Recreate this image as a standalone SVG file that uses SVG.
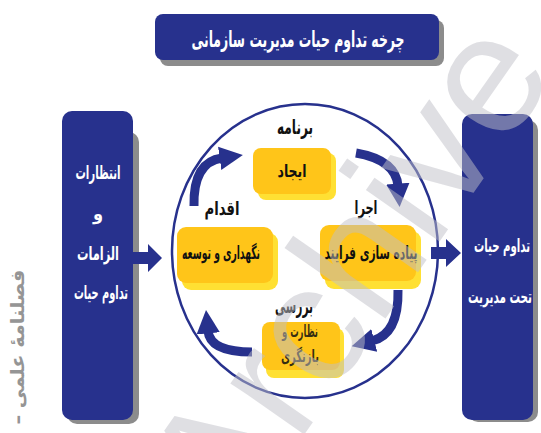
<svg xmlns="http://www.w3.org/2000/svg" width="541" height="433" viewBox="0 0 541 433">
<defs>
<style>
.navy{fill:#27318d}
.shadow{fill:#8c8c8c}
.wt{fill:#ffffff;font-family:"DejaVu Sans Condensed","DejaVu Sans",sans-serif;font-weight:bold;text-anchor:middle}
.bt{fill:#111111;font-family:"DejaVu Sans Condensed","DejaVu Sans",sans-serif;font-weight:bold;text-anchor:middle}
.yb{fill:#ffe033}
.yf{fill:#ffc519}
.carrow{fill:none;stroke:#27318d;stroke-width:9}
</style>
<marker id="ah" viewBox="0 0 10 10" refX="1" refY="5" markerWidth="2.6" markerHeight="3" orient="auto" markerUnits="strokeWidth">
<path d="M0,0 L10,5 L0,10 z" fill="#27318d"/>
</marker>
</defs>
<rect width="541" height="433" fill="#ffffff"/>

<text transform="translate(24,347) rotate(-90)" direction="rtl" font-family="DejaVu Sans Condensed,DejaVu Sans,sans-serif" font-weight="bold" font-size="19" fill="#959595" text-anchor="middle" textLength="155" lengthAdjust="spacingAndGlyphs">فصلنامهٔ علمی –</text>

<g id="title">
<rect x="160" y="20" width="284" height="46" rx="8" class="shadow"/>
<rect x="155" y="14" width="284" height="46" rx="8" class="navy"/>
<text x="298" y="47" class="wt" font-size="22" textLength="213" lengthAdjust="spacingAndGlyphs">چرخه تداوم حیات  مدیریت سازمانی</text>
</g>

<g id="left-box">
<rect x="67" y="132" width="72" height="292" rx="10" class="shadow"/>
<rect x="62" y="111" width="71" height="309" rx="10" class="navy"/>
<text x="98" y="179" class="wt" font-size="19" textLength="45" lengthAdjust="spacingAndGlyphs">انتظارات</text>
<text x="98" y="220" class="wt" font-size="18">و</text>
<text x="98" y="260" class="wt" font-size="19" textLength="42" lengthAdjust="spacingAndGlyphs">الزامات</text>
<text x="101" y="299" class="wt" font-size="19" textLength="54" lengthAdjust="spacingAndGlyphs">تداوم حیات</text>
</g>

<g id="right-box">
<rect x="468" y="120" width="70" height="302" rx="10" class="shadow"/>
<rect x="462" y="114" width="71" height="306" rx="10" class="navy"/>
<text x="502" y="252" class="wt" font-size="18" textLength="56" lengthAdjust="spacingAndGlyphs">تداوم حیات</text>
<text x="500" y="303" class="wt" font-size="18" textLength="64" lengthAdjust="spacingAndGlyphs">تحت مدیریت</text>
</g>

<g id="cycle">
<ellipse cx="305" cy="251" rx="133" ry="147" fill="#ffffff" stroke="#27318d" stroke-width="2.5"/>
</g>

<g id="labels">
<text x="295" y="134" class="bt" font-size="20" textLength="36" lengthAdjust="spacingAndGlyphs">برنامه</text>
<text x="222" y="215" class="bt" font-size="19" textLength="35" lengthAdjust="spacingAndGlyphs">اقدام</text>
<text x="366" y="214" class="bt" font-size="19" textLength="23" lengthAdjust="spacingAndGlyphs">اجرا</text>
<text x="294" y="313" class="bt" font-size="21" textLength="38" lengthAdjust="spacingAndGlyphs">بررسی</text>
</g>

<g id="node-create">
<rect x="258" y="153" width="78" height="47" rx="8" class="yb"/>
<rect x="253" y="148" width="78" height="46" rx="8" class="yf"/>
<text x="292" y="177" class="bt" font-size="17" textLength="29" lengthAdjust="spacingAndGlyphs">ایجاد</text>
</g>

<g id="node-maintain">
<rect x="182" y="233" width="96" height="57" rx="9" class="yb"/>
<rect x="177" y="227" width="96" height="56" rx="9" class="yf"/>
<text x="221" y="259" class="bt" font-size="18" textLength="78" lengthAdjust="spacingAndGlyphs">نگهداری و توسعه</text>
</g>

<g id="node-implement">
<rect x="325" y="231" width="96" height="58" rx="9" class="yb"/>
<rect x="320" y="225" width="96" height="56" rx="9" class="yf"/>
<text x="371" y="259" class="bt" font-size="18" textLength="93" lengthAdjust="spacingAndGlyphs">پیاده سازی فرایند</text>
</g>

<g id="node-review">
<rect x="266" y="328" width="78" height="50" rx="8" class="yb"/>
<rect x="262" y="322" width="78" height="48" rx="8" class="yf"/>
<text x="300" y="337" class="bt" font-size="17" fill-opacity="0.85" textLength="36" lengthAdjust="spacingAndGlyphs">نظارت و</text>
<text x="300" y="362" class="bt" font-size="17" fill-opacity="0.85" textLength="38" lengthAdjust="spacingAndGlyphs">بازنگری</text>
</g>

<g id="connectors">
<path class="carrow" d="M194,206 Q193,162 222,158" marker-end="url(#ah)"/>
<path class="carrow" d="M356,153 Q396,160 398,186" marker-end="url(#ah)"/>
<path class="carrow" d="M398,290 Q399,334 372,341" marker-end="url(#ah)"/>
<path class="carrow" d="M252,352 Q210,352 208,331" marker-end="url(#ah)"/>
<path class="navy" d="M133,252 L148,252 L148,244 L162,258 L148,272 L148,264 L133,264 z"/>
<path class="navy" d="M431,247 L446,247 L446,239 L461,253 L446,267 L446,259 L431,259 z"/>
</g>

<text transform="translate(395,305) rotate(-55)" font-family="Liberation Sans,Arial,sans-serif" font-size="170" fill="#c0c0c8" fill-opacity="0.5" text-anchor="middle">Archive</text>
</svg>
